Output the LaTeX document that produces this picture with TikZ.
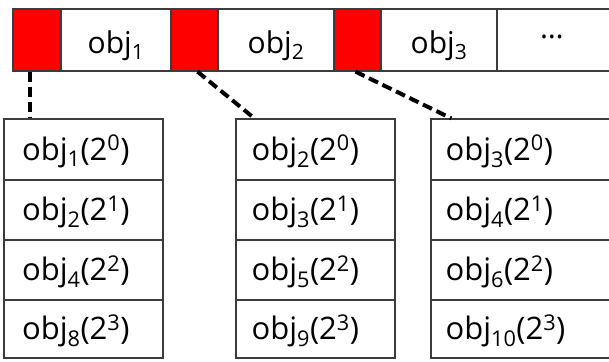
\documentclass[tikz,border=0pt]{standalone}
\usepackage{fontspec}
\setmainfont{Open Sans}
\usetikzlibrary{calc}
\definecolor{edge}{HTML}{3C3C3C}
\definecolor{redcell}{HTML}{FF0000}
\newcommand\lo[1]{\textsubscript{#1}}
\newcommand\hi[1]{\textsuperscript{#1}}
\tikzset{
  cell/.style={draw=edge, line width=1.3pt, inner sep=0pt, fill=white},
  redbox/.style={cell, fill=redcell},
  toptext/.style={font=\fontsize{30}{36}\selectfont, inner sep=0pt},
  listtext/.style={font=\fontsize{31}{37}\selectfont, inner sep=0pt, anchor=base west},
  link/.style={draw=black, line width=4pt, dash pattern=on 10pt off 5pt}
}
\begin{document}
\begin{tikzpicture}[x=1pt,y=-1pt]
\useasboundingbox (0,0) rectangle (609,361);
\clip (0,0) rectangle (609,361);
% top bar cells
\node[redbox, minimum width=48pt, minimum height=62pt] (r1) at (37,40) {};
\node[cell, minimum width=110pt, minimum height=62pt] (c1) at (116,40) {};
\node[redbox, minimum width=47pt, minimum height=62pt] (r2) at (194.5,40) {};
\node[cell, minimum width=116pt, minimum height=62pt] (c2) at (276,40) {};
\node[redbox, minimum width=47pt, minimum height=62pt] (r3) at (357.5,40) {};
\node[cell, minimum width=116pt, minimum height=62pt] (c3) at (439,40) {};
\node[cell, minimum width=124pt, minimum height=62pt] (c4) at (559,40) {};
\node[toptext, anchor=base] (t1) at (116,53) {obj\lo{1}};
\node[toptext, anchor=base] (t2) at (276,53) {obj\lo{2}};
\node[toptext, anchor=base] (t3) at (439,53) {obj\lo{3}};
\node[toptext, anchor=base] (t4) at (552,38) {…};
% lists
\foreach \name/\x/\w in {L/83.5/159, M/315.5/159, R/525/188}{
  \node[cell, minimum width=\w pt, minimum height=61pt] (\name1) at (\x,149.5) {};
  \node[cell, minimum width=\w pt, minimum height=60pt] (\name2) at (\x,210) {};
  \node[cell, minimum width=\w pt, minimum height=60pt] (\name3) at (\x,270) {};
  \node[cell, minimum width=\w pt, minimum height=58pt] (\name4) at (\x,329) {};
}
\foreach \name/\lbl in {1/obj\lo{1}(2\hi{0}),2/obj\lo{2}(2\hi{1}),3/obj\lo{4}(2\hi{2}),4/obj\lo{8}(2\hi{3})}
  \node[listtext] (lt\name) at ($(L\name.west)+(18.5,10.5)$) {\lbl};
\foreach \name/\lbl in {1/obj\lo{2}(2\hi{0}),2/obj\lo{3}(2\hi{1}),3/obj\lo{5}(2\hi{2}),4/obj\lo{9}(2\hi{3})}
  \node[listtext] (mt\name) at ($(M\name.west)+(16,10.5)$) {\lbl};
\foreach \name/\lbl in {1/obj\lo{3}(2\hi{0}),2/obj\lo{4}(2\hi{1}),3/obj\lo{6}(2\hi{2}),4/obj\lo{10}(2\hi{3})}
  \node[listtext] (rt\name) at ($(R\name.west)+(15,10.5)$) {\lbl};
% connectors
\coordinate (e1) at ($(L1.north west)+(27,0)$);
\coordinate (s1) at (r1.south -| e1);
\coordinate (s2) at ($(r2.south)+(3,0)$);
\coordinate (e2) at ($(M1.north west)+(19,0)$);
\coordinate (s3) at ($(r3.south)+(-2,0)$);
\coordinate (e3) at ($(R1.north west)+(21,0)$);
\draw[link] (s1) -- (e1);
\draw[link] (s2) -- (e2);
\draw[link] (s3) -- (e3);
\end{tikzpicture}
\end{document}
